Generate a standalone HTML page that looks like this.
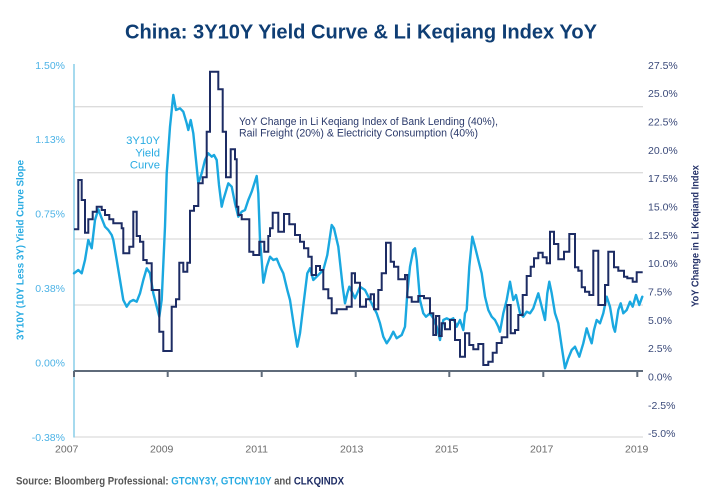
<!DOCTYPE html>
<html>
<head>
<meta charset="utf-8">
<style>
  html, body { margin:0; padding:0; background:#ffffff; }
  svg { display:block; }
  text { font-family: "Liberation Sans", sans-serif; }
</style>
</head>
<body>
<svg width="720" height="500" viewBox="0 0 720 500" xmlns="http://www.w3.org/2000/svg">
  <rect width="720" height="500" fill="#ffffff"/>

  <!-- Title -->
  <text x="125" y="38.3" font-size="20" font-weight="bold" fill="#0f3e74" textLength="472" lengthAdjust="spacingAndGlyphs">China: 3Y10Y Yield Curve &amp; Li Keqiang Index YoY</text>

  <!-- Gridlines -->
  <g stroke="#dcdcdc" stroke-width="1.3">
    <line x1="74" y1="106.7" x2="643" y2="106.7"/>
    <line x1="74" y1="172.7" x2="643" y2="172.7"/>
    <line x1="74" y1="239" x2="643" y2="239"/>
    <line x1="74" y1="305" x2="643" y2="305"/>
    <line x1="74" y1="437" x2="643" y2="437"/>
  </g>

  <!-- Left axis line -->
  <line x1="74" y1="64" x2="74" y2="437.5" stroke="#8fd0ea" stroke-width="1.6"/>

  <!-- Left axis labels -->
  <g font-size="10.5" fill="#4db3e6" text-anchor="end">
    <text x="65" y="68.8">1.50%</text>
    <text x="65" y="143.2">1.13%</text>
    <text x="65" y="217.6">0.75%</text>
    <text x="65" y="292">0.38%</text>
    <text x="65" y="366.4">0.00%</text>
    <text x="65" y="440.8">-0.38%</text>
  </g>

  <!-- Right axis labels -->
  <g font-size="10.5" fill="#3b4a7a">
    <text x="648" y="68.8">27.5%</text>
    <text x="648" y="97.1">25.0%</text>
    <text x="648" y="125.5">22.5%</text>
    <text x="648" y="153.8">20.0%</text>
    <text x="648" y="182.1">17.5%</text>
    <text x="648" y="210.5">15.0%</text>
    <text x="648" y="238.8">12.5%</text>
    <text x="648" y="267.1">10.0%</text>
    <text x="648" y="295.4">7.5%</text>
    <text x="648" y="323.8">5.0%</text>
    <text x="648" y="352.1">2.5%</text>
    <text x="648" y="380.4">0.0%</text>
    <text x="648" y="408.8">-2.5%</text>
    <text x="648" y="437.1">-5.0%</text>
  </g>

  <!-- X labels -->
  <g font-size="10.5" fill="#6b6b6b" text-anchor="middle">
    <text x="66.7" y="452.5">2007</text>
    <text x="161.7" y="452.5">2009</text>
    <text x="256.7" y="452.5">2011</text>
    <text x="351.7" y="452.5">2013</text>
    <text x="446.7" y="452.5">2015</text>
    <text x="541.7" y="452.5">2017</text>
    <text x="636.7" y="452.5">2019</text>
  </g>

  <!-- Axis titles -->
  <text transform="translate(23.5,250) rotate(-90)" font-size="10.5" font-weight="bold" fill="#29abe2" text-anchor="middle" textLength="180" lengthAdjust="spacingAndGlyphs">3Y10Y (10Y  Less 3Y) Yield Curve Slope</text>
  <text transform="translate(698.5,236) rotate(-90)" font-size="10.5" font-weight="bold" fill="#26336a" text-anchor="middle" textLength="142" lengthAdjust="spacingAndGlyphs">YoY Change in Li Keqiand Index</text>

  <!-- Light blue series: 3Y10Y yield curve -->
  <polyline fill="none" stroke="#1aa8e0" stroke-width="2.4" stroke-linejoin="round" stroke-linecap="round"
    points="74,273.3 78.3,270 81.7,273.3 85,260 88.3,240 91.7,248.3 95,220 98.3,209.3 101.7,218.3 105,226.7 108.3,230 111.7,235 113.3,240 116.7,260 120,280 123.3,300 126.7,306.7 130,301.7 133.3,300 136.7,301.7 140,293.3 143.3,280 146.7,268.3 150,273.3 153.3,293.3 156.7,306.7 159.3,316.7 161.7,300 165,226.7 166.7,173.3 170,126.7 173.3,95 176,110 180,108.3 183.3,111.7 186.7,123.3 188.3,130 190.7,120 193.3,133.3 196,160 198.3,183.3 201.7,173.3 205,160 208.3,153.3 211.7,156.7 214,155 216.7,160 219,185 221.7,206.7 223.3,200 228.3,183.3 231.7,186.7 235,203.3 238.3,216.7 241.7,211.7 245,210 248.3,200 251.7,191.7 256.7,176 258.3,193.3 260,240 261.7,260 263.3,282.7 266.7,266.7 270,256.7 273.3,260 276.7,258.7 280,266.7 283.3,273.3 287.3,290 290,300 294,326.7 297.3,346.7 300,333.3 304,300 307.3,273.3 310,268.3 313.3,280 318.3,275 323.3,270 327.3,255 331.7,225 334,228.3 338.3,246.7 342.7,286.7 345,303.3 347.3,293.3 349.3,286.7 355,298.3 360,286.7 365,290 370,300 373.3,306.7 376.7,313.3 380,323.3 383.3,336.7 386.7,343.3 390,338.3 393.3,331.7 396.7,338.3 401.7,335 405,326.7 407.3,293.3 410,266.7 413.3,250 415,248.3 416.7,260 420,300 423.3,313.3 426,316.7 430,313.3 433.3,318.3 436.7,326.7 440,340 443.3,320 446.7,318.3 450,320 453.3,318.3 456.7,326.7 460,320 463.3,330 465,313.3 466.7,310 469.3,266.7 472.3,236.7 475,246.7 478.3,260 481.7,273.3 485,296.7 488.3,310 491.7,316.7 495,320 498.3,326.7 500,331.7 503.3,313.3 506.7,300 510,281.7 513.3,300 516,295 520,313.3 523.3,316.7 526.7,311.7 530,313.3 533.3,308.3 538.3,293.3 541.7,306.7 545,320 547.3,293.3 549.3,281.7 551.7,293.3 555,313.3 558.3,323.3 561.7,346.7 565,368.3 568.3,358.3 571.7,350 575,346.7 579.3,356.7 583.3,343.3 586.7,328.3 589.3,336.7 591.7,343.3 594,330 596.7,320 600,323.3 603.3,313.3 606.7,296.7 610,306.7 613.3,326.7 615,331.7 618.3,310 620.7,303.3 623.3,313.3 626.7,310 630,301.7 632.7,306.7 636,295 639.3,305 642.3,296.7"/>

  <!-- Zero line with ticks -->
  <g stroke="#5f6b7a" stroke-width="2">
    <line x1="74" y1="371" x2="643" y2="371"/>
    <line x1="74" y1="371" x2="74" y2="377"/>
    <line x1="167.7" y1="371" x2="167.7" y2="377"/>
    <line x1="261.7" y1="371" x2="261.7" y2="377"/>
    <line x1="355.7" y1="371" x2="355.7" y2="377"/>
    <line x1="449.3" y1="371" x2="449.3" y2="377"/>
    <line x1="543.3" y1="371" x2="543.3" y2="377"/>
    <line x1="637.3" y1="371" x2="637.3" y2="377"/>
  </g>

  <!-- Navy series: Li Keqiang Index YoY (step) -->
  <path fill="none" stroke="#1d2c64" stroke-width="2" stroke-linejoin="miter"
    d="M74,229.3H78.3V180H81.7V200H85V232.7H88.3V219.3H92.7V211.7H96.7V206.7H101.7V210H105V215H109.3V219.3H113.3V223.3H121.7V228.3H123.3V253.3H129.3V246.7H133.3V211.7H136.7V236H140V241.7H143.3V260H146.7V263.3H151.7V290H159.3V331.7H163.3V351H171.7V306.7H176V299.3H179.3V262.7H183.3V271.7H187.3V262.7H190V210.7H194V206H198.3V183.3H202.7V177.3H206.7V131.7H210V71.7H218.3V89.3H222.7V131.7H226V177.3H230.7V149.3H235V159.3H236.7V206.7H238.3V215H241.7V219.3H249.3V251.7H253.3V255H259.3V241.7H264.3V251.7H268.3V236H270V228.3H272.7V212.7H278.3V231.7H284V214H289.3V224.3H295V235H300V241.7H304V248.3H308.3V256.7H311.7V275H316V266H320V270H323.3V289.3H328.3V298.3H331.7V313.3H336.7V309.3H346.7V306.7H351.7V273.3H355V282.7H360V306.7H366V299.3H370.7V294.3H374V309.3H378.3V290H381.7V273.3H386V242.7H390.7V261.7H394V266.7H398.3V279.3H405V275H407.3V297.3H411.7V301.7H418.3V296H424V298.3H430V313.3H433.3V335H436V316H439.3V336H441.7V323.3H445V329.3H450V320H455V340H460V356.7H465V333.3H469.3V345H473.3V349.3H478.3V344H483.3V365H488.3V361.7H492.7V352.7H496.7V343H501.7V337.3H507.3V305H510.7V333.3H515V330H518.3V315H522.7V295H526.7V276H530.7V266.7H534V258.3H538.3V252.7H542.7V257.3H546.7V263.3H550V231.7H554V244H558.3V259.3H564V251.7H569.3V234H575V267.3H578.3V270.7H581.7V287.3H585V291.7H589.3V295H593.3V250.7H598.3V305H605V285H608.3V251.7H614V267.3H618.3V270.7H624V276.7H627.3V278.3H632.7V281.7H636.7V272.3H642.7"/>

  <!-- Series annotations -->
  <g font-size="11.3" fill="#29abe2" text-anchor="end">
    <text x="160" y="144">3Y10Y</text>
    <text x="160" y="156.5">Yield</text>
    <text x="160" y="168.3">Curve</text>
  </g>
  <g font-size="11" fill="#2b3a6b">
    <text x="239" y="125" textLength="259" lengthAdjust="spacingAndGlyphs">YoY Change in Li Keqiang Index of Bank Lending (40%),</text>
    <text x="239" y="136.5" textLength="239" lengthAdjust="spacingAndGlyphs">Rail Freight (20%) &amp; Electricity Consumption (40%)</text>
  </g>

  <!-- Source -->
  <text x="16" y="484.5" font-size="11" font-weight="bold" fill="#555555" textLength="328" lengthAdjust="spacingAndGlyphs">Source: Bloomberg Professional: <tspan fill="#29abe2">GTCNY3Y, GTCNY10Y</tspan> and <tspan fill="#1d2c64">CLKQINDX</tspan></text>
</svg>
</body>
</html>
